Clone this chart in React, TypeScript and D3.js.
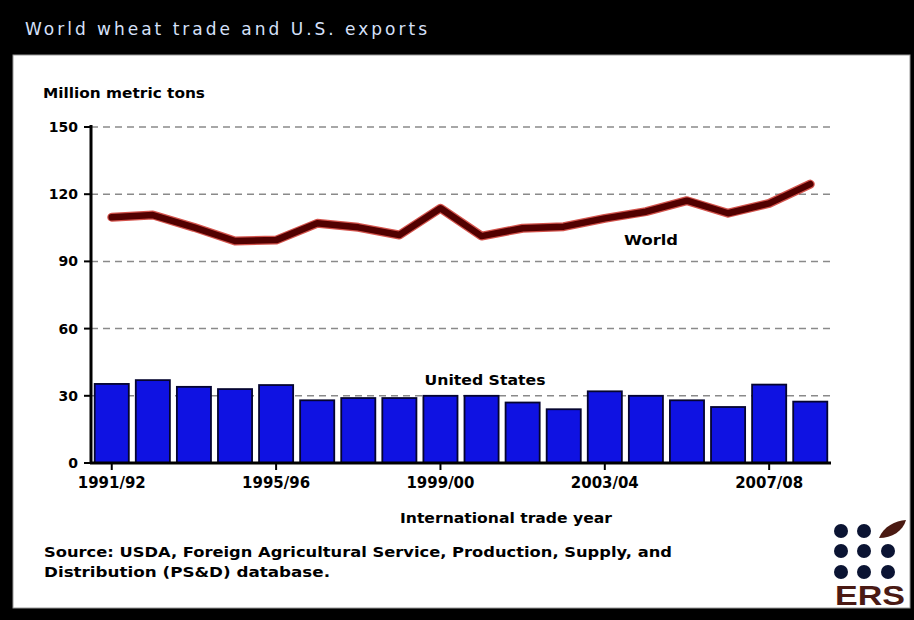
import React from "react";
import * as d3 from "d3";

const years = [
  "1991/92", "1992/93", "1993/94", "1994/95", "1995/96", "1996/97",
  "1997/98", "1998/99", "1999/00", "2000/01", "2001/02", "2002/03",
  "2003/04", "2004/05", "2005/06", "2006/07", "2007/08", "2008/09",
];
const usExports = [35.3, 37, 34, 33, 34.8, 28, 29, 29, 30, 30, 27, 24, 32, 30, 28, 25, 35, 27.4];
const worldTrade = [109.7, 110.7, 105.2, 99.1, 99.5, 107, 105.2, 101.8, 113.7, 101.3, 104.8, 105.5, 109.2, 112.2, 117.1, 111.5, 115.9, 124.5];
const yTicks = [0, 30, 60, 90, 120, 150];
const xTickLabels = ["1991/92", "1995/96", "1999/00", "2003/04", "2007/08"];

const W = 914;
const H = 620;
const FONT = "'DejaVu Sans', sans-serif";

export default function App() {
  const x = d3.scaleBand<string>().domain(years).range([91, 831]).paddingInner(0.17).paddingOuter(0.09);
  const y = d3.scaleLinear().domain([0, 150]).range([463, 127]);
  const cx = (yr: string) => (x(yr) as number) + x.bandwidth() / 2;
  const line = d3
    .line<number>()
    .x((_, i) => cx(years[i]))
    .y((v) => y(v))
    .curve(d3.curveLinear);
  const path = line(worldTrade) as string;

  const dots: { cx: number; cy: number }[] = [];
  const dotX = [841, 864, 888];
  const dotY = [531, 551, 572];
  dotY.forEach((dy, r) =>
    dotX.forEach((dx, c) => {
      if (!(r === 0 && c === 2)) dots.push({ cx: dx, cy: dy });
    })
  );

  return (
    <svg
      width={W}
      height={H}
      style={{ position: "absolute", left: 0, top: 0 }}
      fontFamily={FONT}
    >
      <rect x={0} y={0} width={W} height={H} fill="#000" />
      <text x={25} y={35} fontSize={17} fill="#d6e0fa" textLength={402} lengthAdjust="spacing" fontFamily={FONT}>
        World wheat trade and U.S. exports
      </text>
      <rect x={13} y={55} width={897} height={553} fill="#fff" stroke="#999" strokeWidth={1} />

      <text x={43} y={98} fontSize={14} fontWeight="bold" fill="#000" textLength={162} lengthAdjust="spacingAndGlyphs">
        Million metric tons
      </text>

      {/* gridlines */}
      {yTicks.filter((t) => t > 0).map((t) => (
        <line key={"g" + t} x1={91} x2={830} y1={y(t)} y2={y(t)} stroke="#8a8a8a" strokeWidth={1.5} strokeDasharray="7,5" />
      ))}

      {/* bars */}
      {years.map((yr, i) => (
        <rect
          key={yr}
          x={x(yr) as number}
          y={y(usExports[i])}
          width={x.bandwidth()}
          height={y(0) - y(usExports[i])}
          fill="#0f12e2"
          stroke="#050530"
          strokeWidth={1.8}
        />
      ))}

      {/* world line */}
      <path d={path} fill="none" stroke="#c41a10" strokeWidth={9} strokeOpacity={0.75} strokeLinejoin="round" strokeLinecap="round" />
      <path d={path} fill="none" stroke="#520000" strokeWidth={6.5} strokeLinejoin="round" strokeLinecap="round" />

      {/* axes */}
      <line x1={91} x2={91} y1={125} y2={464} stroke="#000" strokeWidth={3} />
      <line x1={90} x2={831} y1={463} y2={463} stroke="#000" strokeWidth={3} />
      {yTicks.map((t) => (
        <g key={"yt" + t}>
          <line x1={84} x2={91} y1={y(t)} y2={y(t)} stroke="#000" strokeWidth={2} />
          <text x={78} y={y(t) + 5} fontSize={14} fontWeight="bold" textAnchor="end" fill="#000">
            {t}
          </text>
        </g>
      ))}
      {xTickLabels.map((lab) => (
        <g key={"xt" + lab}>
          <line x1={cx(lab)} x2={cx(lab)} y1={463} y2={470} stroke="#000" strokeWidth={2} />
          <text x={cx(lab)} y={488} fontSize={15} fontWeight="bold" textAnchor="middle" fill="#000" textLength={68} lengthAdjust="spacingAndGlyphs">
            {lab}
          </text>
        </g>
      ))}
      <text x={506} y={523} fontSize={14} fontWeight="bold" textAnchor="middle" fill="#000" textLength={212} lengthAdjust="spacingAndGlyphs">
        International trade year
      </text>

      {/* series labels */}
      <text x={485} y={385} fontSize={14} fontWeight="bold" textAnchor="middle" fill="#000" textLength={121} lengthAdjust="spacingAndGlyphs">
        United States
      </text>
      <text x={651} y={245} fontSize={14} fontWeight="bold" textAnchor="middle" fill="#000" textLength={54} lengthAdjust="spacingAndGlyphs">
        World
      </text>

      {/* source */}
      <text x={44} y={557} fontSize={14} fontWeight="bold" fill="#000" textLength={628} lengthAdjust="spacingAndGlyphs">
        Source: USDA, Foreign Agricultural Service, Production, Supply, and
      </text>
      <text x={44} y={577} fontSize={14} fontWeight="bold" fill="#000" textLength={286} lengthAdjust="spacingAndGlyphs">
        Distribution (PS&amp;D) database.
      </text>

      {/* ERS logo */}
      {dots.map((d, i) => (
        <circle key={"d" + i} cx={d.cx} cy={d.cy} r={7} fill="#0b1433" />
      ))}
      <path d="M 879 538 C 884 526, 895 521, 906 520 C 903 531, 892 538, 879 538 Z" fill="#4a1a12" />
      <text x={835} y={605} fontSize={28} fontWeight="bold" fill="#4a1a14" fontFamily="'Liberation Sans', Arial, sans-serif" textLength={70} lengthAdjust="spacingAndGlyphs">
        ERS
      </text>
    </svg>
  );
}
